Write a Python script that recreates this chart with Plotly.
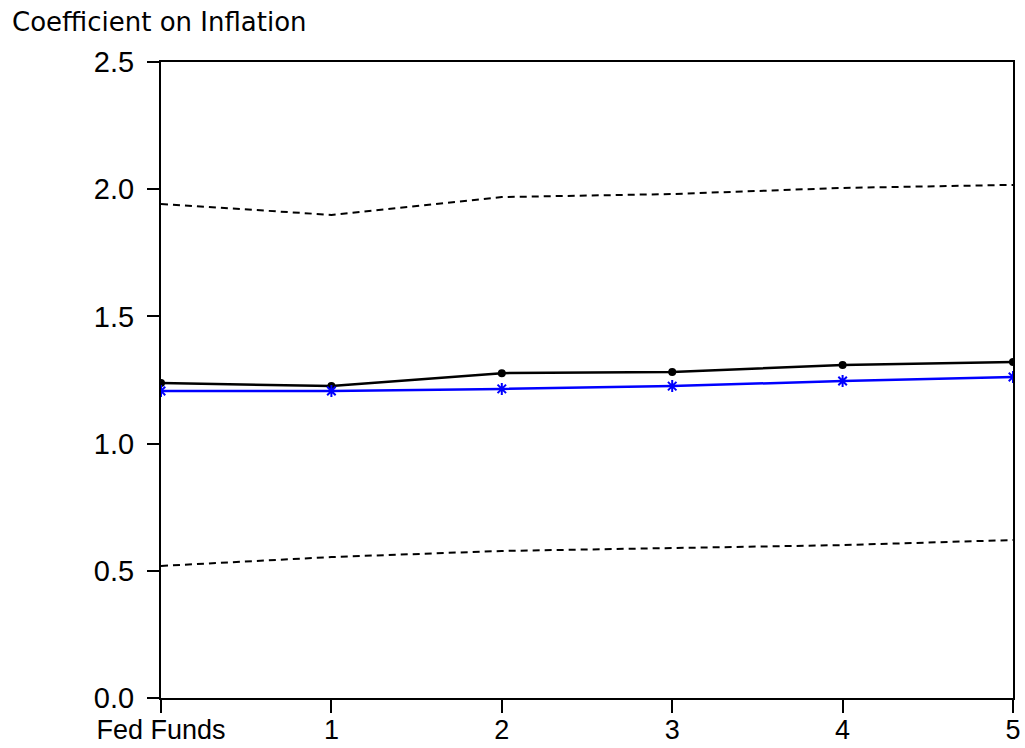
import plotly.graph_objects as go

horizons = [0, 1, 2, 3, 4, 5]
tick_labels = ["Fed Funds", "1", "2", "3", "4", "5"]
coef_black = [1.238, 1.226, 1.277, 1.281, 1.309, 1.321]
coef_blue = [1.207, 1.207, 1.215, 1.226, 1.246, 1.262]
upper_band = [1.942, 1.899, 1.969, 1.981, 2.005, 2.017]
lower_band = [0.519, 0.554, 0.578, 0.590, 0.601, 0.621]

fig = go.Figure()
fig.add_trace(go.Scatter(x=horizons, y=upper_band, mode="lines",
                         line=dict(color="black", width=2, dash="7px,5px")))
fig.add_trace(go.Scatter(x=horizons, y=lower_band, mode="lines",
                         line=dict(color="black", width=2, dash="7px,5px")))
fig.add_trace(go.Scatter(x=horizons, y=coef_black, mode="lines+markers",
                         line=dict(color="black", width=2.5),
                         marker=dict(symbol="circle", size=8, color="black")))
fig.add_trace(go.Scatter(x=horizons, y=coef_blue, mode="lines+markers",
                         line=dict(color="#0000ff", width=2.5),
                         marker=dict(symbol="asterisk-open", size=10,
                                     line=dict(color="#0000ff", width=2))))

fig.update_layout(
    width=1025, height=748,
    margin=dict(l=161, r=12, t=62, b=50, autoexpand=False),
    paper_bgcolor="white", plot_bgcolor="white",
    showlegend=False,
    font=dict(family="Liberation Sans, Arial, sans-serif", color="black"),
    annotations=[dict(text="Coefficient on Inflation", xref="paper", yref="paper",
                      x=-151/852, y=1 + 40/636, xanchor="left", yanchor="middle",
                      showarrow=False,
                      font=dict(size=26, color="black", family="DejaVu Sans, sans-serif"))],
)
fig.update_xaxes(range=[0, 5], tickvals=horizons, ticktext=tick_labels,
                 showgrid=False, zeroline=False, showline=True, mirror=True,
                 linecolor="black", linewidth=2, ticks="outside", ticklen=13,
                 tickcolor="black", tickwidth=2, automargin=False,
                 ticklabelstandoff=-6,
                 tickfont=dict(size=27, family="Liberation Sans, sans-serif"))
fig.update_yaxes(range=[0, 2.5], tickvals=[0, 0.5, 1.0, 1.5, 2.0, 2.5],
                 tickformat=".1f", showgrid=False, zeroline=False, showline=True,
                 mirror=True, linecolor="black", linewidth=2, ticks="outside",
                 ticklen=12, tickcolor="black", tickwidth=2, automargin=False,
                 ticklabelstandoff=7, tickfont=dict(size=29))

fig.write_html("out.html", config={"displayModeBar": False},
               post_script="document.body.style.margin='0';document.body.style.overflow='hidden';")
